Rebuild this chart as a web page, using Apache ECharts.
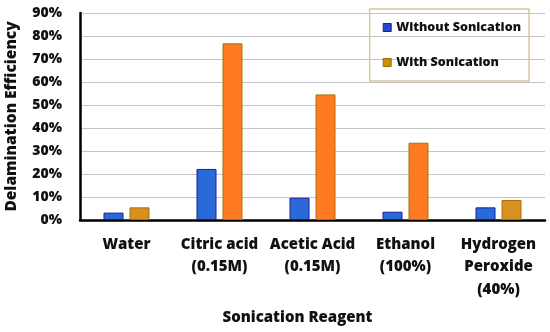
<!DOCTYPE html>
<html><head><meta charset="utf-8">
<script src="https://cdn.jsdelivr.net/npm/echarts@6/dist/echarts.min.js"></script>
<style>html,body{margin:0;padding:0;background:#fff}#c{width:550px;height:332px}</style>
</head><body><div id="c"></div>
<script>
const categories = ['Water', 'Citric acid\n(0.15M)', 'Acetic Acid\n(0.15M)', 'Ethanol\n(100%)', 'Hydrogen\nPeroxide\n(40%)'];
const withoutSonication = [3.2, 22.2, 9.7, 3.6, 5.5];
const withSonication = [5.5, 76.8, 54.6, 33.6, 8.7];
const yTicks = [0, 10, 20, 30, 40, 50, 60, 70, 80, 90];

const chart = echarts.init(document.getElementById('c'));
const font = 'Open Sans';
const fw = 800;
const withColors = ['#d8901e', '#ff7b22', '#ff7b22', '#ff7b22', '#d8901e'];
chart.setOption({
  animation: false,
  grid: {left: 80, right: 5, top: 13, bottom: 112, outerBoundsMode: 'none', containLabel: false},
  legend: {
    right: 21, top: 9, orient: 'vertical', itemGap: 22, padding: [12, 8, 12, 13],
    borderColor: '#d8c89a', borderWidth: 1.5, itemWidth: 8, itemHeight: 8, icon: 'rect',
    textStyle: {fontFamily: font, fontWeight: fw, fontSize: 12.5, color: '#111'},
    data: [
      {name: 'Without Sonication', itemStyle: {color: '#2547c8', borderColor: '#1c1c9c', borderWidth: 1}},
      {name: 'With Sonication', itemStyle: {color: '#c8900a', borderColor: '#9a6a08', borderWidth: 1}}
    ]
  },
  xAxis: {
    type: 'category', data: categories,
    name: 'Sonication Reagent', nameLocation: 'middle', nameGap: 90,
    nameTextStyle: {fontFamily: font, fontWeight: fw, fontSize: 15, color: '#111', padding: [0, 30, 0, 0]},
    axisLine: {lineStyle: {color: '#000', width: 2.5}},
    axisTick: {show: false},
    axisLabel: {fontFamily: font, fontWeight: fw, fontSize: 15, color: '#111', lineHeight: 22.5, margin: 13, interval: 0}
  },
  yAxis: {
    type: 'value', min: 0, max: 90, interval: 10,
    name: 'Delamination Efficiency', nameLocation: 'middle', nameGap: 60,
    nameTextStyle: {fontFamily: font, fontWeight: fw, fontSize: 15.5, color: '#111'},
    axisLine: {show: true, lineStyle: {color: '#000', width: 2.5}},
    axisTick: {show: false},
    axisLabel: {fontFamily: font, fontWeight: fw, fontSize: 14, color: '#111', margin: 18,
      formatter: v => yTicks.includes(v) ? v + '%' : ''},
    splitLine: {lineStyle: {color: '#c4c4c4', width: 1}}
  },
  series: [
    {name: 'Without Sonication', type: 'bar', data: withoutSonication, barWidth: 20, barGap: '30%',
      itemStyle: {color: '#2a6ad8', borderColor: '#1c1c9c', borderWidth: 1}},
    {name: 'With Sonication', type: 'bar', barWidth: 20,
      data: withSonication.map((v, i) => ({value: v, itemStyle: {color: withColors[i]}})),
      itemStyle: {borderColor: '#a8700e', borderWidth: 1}}
  ]
});
</script></body></html>
